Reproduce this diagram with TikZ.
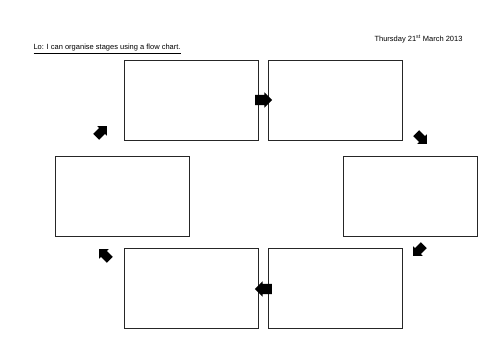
\documentclass[tikz,border=0pt]{standalone}
\usepackage{fontspec}
\setmainfont{Liberation Sans}
\usetikzlibrary{shapes.arrows}

\begin{document}
\begin{tikzpicture}[
    x=1pt, y=1pt,
    font=\fontsize{7.5}{9}\selectfont,
    stage/.style={rectangle, draw=black!85, line width=0.9pt, minimum width=134pt, minimum height=80pt, inner sep=0pt},
    turn/.style={single arrow, fill=black, draw=none, inner sep=0pt, inner ysep=5pt, single arrow head extend=2.5pt, minimum height=17pt},
    tilt/.style={turn, inner ysep=4pt, single arrow head extend=2.5pt, minimum height=15pt}
]
\useasboundingbox (0,0) rectangle (500,354);
\node[anchor=east] (date) at (466,315) {Thursday 21\textsuperscript{st} March 2013};
\node[anchor=west] (aim) at (30,305) {\underline{Lo: I can organise stages using a flow chart.}};
% six empty stages, clockwise
\node[stage] (first) at (191,254) {};
\node[stage] (second) at (335.5,254) {};
\node[stage] (third) at (410.5,157.5) {};
\node[stage] (fourth) at (335,66) {};
\node[stage] (fifth) at (191,66) {};
\node[stage] (sixth) at (122,157.5) {};
% block arrows between stages
\node[turn] (firstsecond) at (261,254) {};
\node[tilt, rotate=-45] (secondthird) at (420,217) {};
\node[tilt, rotate=-135] (thirdfourth) at (420,105) {};
\node[turn, rotate=180] (fourthfifth) at (266,65) {};
\node[tilt, rotate=135] (fifthsixth) at (106,98) {};
\node[tilt, rotate=45] (sixthfirst) at (100,221) {};
\end{tikzpicture}
\end{document}
